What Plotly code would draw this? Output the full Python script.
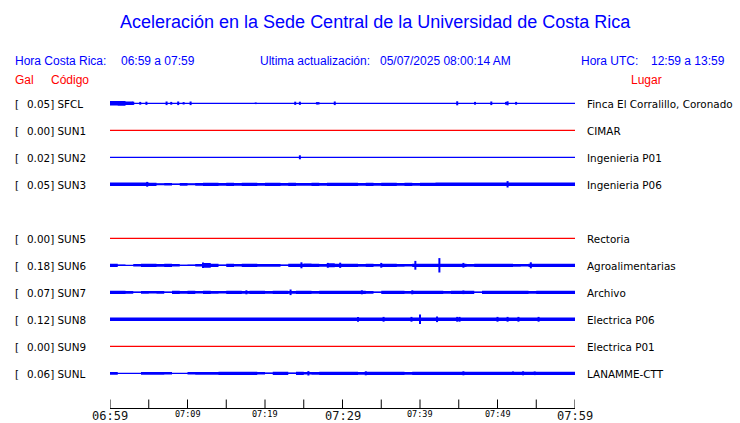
import plotly.graph_objects as go

# ---------------- data ----------------
codigos = ["SFCL", "SUN1", "SUN2", "SUN3", None, "SUN5", "SUN6", "SUN7", "SUN8", "SUN9", "SUNL"]
pico_gal = [0.05, 0.00, 0.02, 0.05, None, 0.00, 0.18, 0.07, 0.12, 0.00, 0.06]
lugares = ["Finca El Corralillo, Coronado", "CIMAR", "Ingenieria P01", "Ingenieria P06", None,
           "Rectoria", "Agroalimentarias", "Archivo", "Electrica P06", "Electrica P01", "LANAMME-CTT"]

# tick labels (minutes after 06:59)
tick_min = [0, 5, 10, 15, 20, 25, 30, 35, 40, 45, 50, 55, 60]
etiq_mayores = {0: "06:59", 30: "07:29", 60: "07:59"}
etiq_menores = {10: "07:09", 20: "07:19", 40: "07:39", 50: "07:49"}

# envelope (Gal) per minute, 60 bins
env_SFCL = [0.055, 0.06, 0.045] + [0.0] * 57
env_SUN2 = [0.0] * 60
env_SUN3 = ([0.042, 0.042, 0.042, 0.042, 0.042, 0.04,
             0.025, 0.03, 0.02, 0.035, 0.025, 0.035,
             0.04, 0.04, 0.035, 0.04, 0.035, 0.04, 0.04, 0.035, 0.04, 0.04, 0.035, 0.04,
             0.035, 0.035, 0.04, 0.035, 0.04, 0.04,
             0.04, 0.04, 0.035, 0.04, 0.035, 0.04, 0.04, 0.035, 0.04, 0.035, 0.04, 0.04]
            + [0.043] * 18)
env_SUN6 = [0.04, 0.02, 0.01, 0.03, 0.04, 0.04, 0.035, 0.04, 0.03, 0.015,
            0.02, 0.03, 0.06, 0.04, 0.02, 0.04, 0.03, 0.04, 0.04, 0.035,
            0.035, 0.035, 0.02, 0.04, 0.04, 0.045, 0.04, 0.035, 0.05, 0.04,
            0.04, 0.04, 0.035, 0.04, 0.03, 0.04, 0.04, 0.035, 0.03, 0.04,
            0.04, 0.04, 0.04, 0.04, 0.04, 0.04, 0.035, 0.04, 0.04, 0.04,
            0.04, 0.04, 0.035, 0.03, 0.04, 0.04, 0.04, 0.04, 0.04, 0.04]
env_SUN7 = [0.04, 0.04, 0.035, 0.02, 0.035, 0.03, 0.035, 0.02, 0.04, 0.035,
            0.04, 0.03, 0.04, 0.035, 0.03, 0.04, 0.04, 0.035, 0.04, 0.04,
            0.035, 0.04, 0.04, 0.035, 0.04, 0.04, 0.035, 0.04, 0.04, 0.04,
            0.04, 0.04, 0.04, 0.035, 0.02, 0.04, 0.04, 0.04, 0.035, 0.04,
            0.04, 0.04, 0.04, 0.035, 0.04, 0.04, 0.04, 0.02, 0.04, 0.04,
            0.04, 0.04, 0.04, 0.04, 0.035, 0.04, 0.04, 0.04, 0.04, 0.04]
env_SUN8 = [0.045] * 60
env_SUNL = [0.035, 0.01, 0.01, 0.0, 0.035, 0.035, 0.035, 0.03, 0.0, 0.0,
            0.03, 0.035, 0.035, 0.035, 0.04, 0.04, 0.04, 0.04, 0.04, 0.03,
            0.02, 0.04, 0.04, 0.02, 0.04, 0.03, 0.035, 0.04, 0.04, 0.04,
            0.04, 0.04, 0.035, 0.04, 0.04, 0.04, 0.04, 0.04, 0.035, 0.04,
            0.04, 0.04, 0.04, 0.04, 0.04, 0.04, 0.04, 0.04, 0.04, 0.04,
            0.04, 0.04, 0.04, 0.04, 0.04, 0.04, 0.04, 0.04, 0.04, 0.04]

# individual spikes: (minute, Gal)
spk_SFCL = [(3.0, 0.04), (3.9, 0.035), (4.7, 0.04), (7.3, 0.045), (7.9, 0.035), (8.8, 0.045),
            (9.5, 0.03), (10.4, 0.045), (18.8, 0.02), (23.9, 0.04), (24.5, 0.04), (26.7, 0.03),
            (26.9, 0.03), (29.0, 0.045), (44.8, 0.05), (47.1, 0.035), (49.2, 0.045),
            (51.1, 0.035), (51.3, 0.05), (52.4, 0.035)]
spk_SUN2 = [(24.5, 0.05)]
spk_SUN3 = [(4.8, 0.06), (51.3, 0.08)]
spk_SUN6 = [(12.0, 0.07), (24.7, 0.075), (28.1, 0.06), (29.7, 0.065), (35.0, 0.06),
            (39.4, 0.11), (42.5, 0.18), (45.6, 0.06), (54.3, 0.075)]
spk_SUN7 = [(17.6, 0.05), (23.3, 0.07), (32.5, 0.05), (39.0, 0.05), (45.6, 0.045)]
spk_SUN8 = [(32.0, 0.06), (35.3, 0.06), (38.9, 0.06), (40.0, 0.12), (42.2, 0.07), (44.8, 0.06),
            (45.1, 0.06), (50.0, 0.06), (51.3, 0.06), (52.7, 0.06), (55.3, 0.06)]
spk_SUNL = [(25.6, 0.055), (33.0, 0.05), (45.6, 0.05), (52.0, 0.045), (53.3, 0.05), (54.8, 0.045)]

envolventes = {"SFCL": env_SFCL, "SUN2": env_SUN2, "SUN3": env_SUN3, "SUN6": env_SUN6,
               "SUN7": env_SUN7, "SUN8": env_SUN8, "SUNL": env_SUNL}
picos = {"SFCL": spk_SFCL, "SUN2": spk_SUN2, "SUN3": spk_SUN3, "SUN6": spk_SUN6,
         "SUN7": spk_SUN7, "SUN8": spk_SUN8, "SUNL": spk_SUNL}

# ---------------- layout constants ----------------
W, H = 740, 423
ML, MR, MT, MB = 110, 165, 90, 12
PW, PH = W - ML - MR, H - MT - MB
ROW0, ROWSTEP = 103.3, 27.0
AXIS_Y = 408.5           # page pixel of the time axis line
GAIN = 40.0  # px per Gal
BLUE, RED = "#0000ff", "#ff0000"


def px(x):
    return (x - ML) / PW


def py(y):
    return (H - MB - y) / PH


fig = go.Figure()

for k, code in enumerate(codigos):
    if code is None:
        continue
    yc = ROW0 + ROWSTEP * k
    color = RED if pico_gal[k] == 0 else BLUE
    # base line
    fig.add_trace(go.Scatter(x=[0, 60], y=[yc, yc], mode="lines",
                             line=dict(color=color, width=1.3), hoverinfo="skip"))
    env = envolventes.get(code)
    if env and any(a > 0 for a in env):
        xs, ys = [], []
        for i, a in enumerate(env):
            xs += [i, i + 1]
            ys += [yc - a * GAIN, yc - a * GAIN]
        for i in reversed(range(len(env))):
            a = env[i]
            xs += [i + 1, i]
            ys += [yc + a * GAIN, yc + a * GAIN]
        fig.add_trace(go.Scatter(x=xs, y=ys, mode="lines", fill="toself",
                                 fillcolor=color,
                                 line=dict(width=0, color=color, simplify=False),
                                 hoverinfo="skip"))
    spk = picos.get(code, [])
    if spk:
        sx, sy = [], []
        for t, a in spk:
            sx += [t, t, None]
            sy += [yc - a * GAIN, yc + a * GAIN, None]
        fig.add_trace(go.Scatter(x=sx, y=sy, mode="lines",
                                 line=dict(color=color, width=2, simplify=False),
                                 hoverinfo="skip"))

# time axis: baseline and upward ticks, drawn on the data axes
fig.add_trace(go.Scatter(x=[0, 60], y=[AXIS_Y, AXIS_Y], mode="lines",
                         line=dict(color="black", width=1), hoverinfo="skip"))
tx, ty = [], []
for m in tick_min:
    tx += [m, m, None]
    ty += [AXIS_Y, AXIS_Y - 9, None]
fig.add_trace(go.Scatter(x=tx, y=ty, mode="lines", line=dict(color="black", width=1),
                         hoverinfo="skip", cliponaxis=False))

ann = []
LBL = dict(family="DejaVu Sans", size=10.4, color="black")
for k, code in enumerate(codigos):
    if code is None:
        continue
    yc = ROW0 + ROWSTEP * k
    ann.append(dict(x=px(15), y=yc, xref="paper", yref="y", text="[", showarrow=False,
                    xanchor="left", yanchor="middle", font=LBL, yshift=-1,
                    borderpad=0, borderwidth=0))
    ann.append(dict(x=px(27), y=yc, xref="paper", yref="y",
                    text=f"{pico_gal[k]:.2f}] {code}", showarrow=False,
                    xanchor="left", yanchor="middle", font=LBL, yshift=-1,
                    borderpad=0, borderwidth=0))
    ann.append(dict(x=px(587), y=yc, xref="paper", yref="y", text=lugares[k],
                    showarrow=False, xanchor="left", yanchor="middle", font=LBL, yshift=-1,
                    borderpad=0, borderwidth=0))

HDR_B = dict(family="Liberation Sans", size=12, color=BLUE)
HDR_R = dict(family="Liberation Sans", size=12, color=RED)
header = [("Hora Costa Rica:", 15, 61, HDR_B), ("06:59 a 07:59", 120.7, 61, HDR_B),
          ("Ultima actualización:", 260, 61, HDR_B), ("05/07/2025 08:00:14 AM", 380, 61, HDR_B),
          ("Hora UTC:", 580.7, 61, HDR_B), ("12:59 a 13:59", 651, 61, HDR_B),
          ("Gal", 15, 80, HDR_R), ("Código", 50.7, 80, HDR_R), ("Lugar", 631, 80, HDR_R)]
for txt, x, y, f in header:
    ann.append(dict(x=px(x), y=py(y), xref="paper", yref="paper", text=txt, showarrow=False,
                    xanchor="left", yanchor="middle", font=f, borderpad=0, borderwidth=0))

ann.append(dict(x=px(375), y=py(22), xref="paper", yref="paper",
                text="Aceleración en la Sede Central de la Universidad de Costa Rica",
                showarrow=False, xanchor="center", yanchor="middle",
                font=dict(family="Liberation Sans", size=18, color=BLUE),
                borderpad=0, borderwidth=0))

for m, t in etiq_mayores.items():
    ann.append(dict(x=m, y=AXIS_Y, xref="x", yref="y", text=t, showarrow=False,
                    xanchor="center", yanchor="top",
                    font=dict(family="DejaVu Sans Mono", size=12, color="#111111"),
                    borderpad=0, borderwidth=0))
for m, t in etiq_menores.items():
    ann.append(dict(x=m, y=AXIS_Y + 0.5, xref="x", yref="y", text=t, showarrow=False,
                    xanchor="center", yanchor="top",
                    font=dict(family="DejaVu Sans Mono", size=8.5, color="black"),
                    borderpad=0, borderwidth=0))

fig.update_layout(
    width=W, height=H, margin=dict(l=ML, r=MR, t=MT, b=MB),
    paper_bgcolor="white", plot_bgcolor="white", showlegend=False,
    annotations=ann,
    xaxis=dict(range=[0, 60], visible=False, showgrid=False, zeroline=False,
               fixedrange=True),
    yaxis=dict(range=[H - MB, MT], visible=False, showgrid=False, zeroline=False,
               fixedrange=True),
)

fig.write_html("out.html", config={"displayModeBar": False},
               post_script="document.body.style.margin='0';document.body.style.overflow='hidden';")
